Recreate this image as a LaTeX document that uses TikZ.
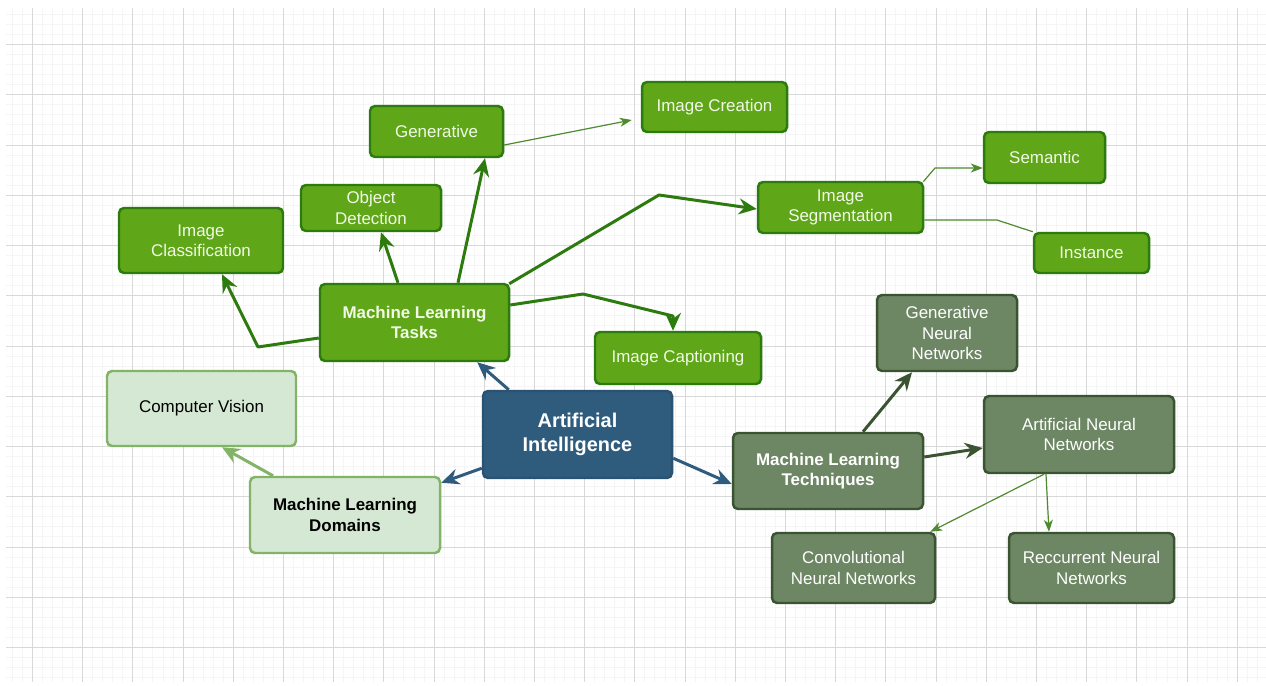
\documentclass[tikz,border=0pt]{standalone}
\usepackage{fontspec}
\setmainfont{Liberation Sans}
\usetikzlibrary{arrows.meta}
\definecolor{gfill}{HTML}{5FA619}
\definecolor{gdraw}{HTML}{2D7A0E}
\definecolor{gtext}{HTML}{F2FAE6}
\definecolor{bfill}{HTML}{2F5B7D}
\definecolor{bdraw}{HTML}{2A5272}
\definecolor{ofill}{HTML}{6D8764}
\definecolor{odraw}{HTML}{3A5431}
\definecolor{lfill}{HTML}{D5E8D4}
\definecolor{ldraw}{HTML}{82B366}
\definecolor{gthin}{HTML}{4E8A2E}
\definecolor{gridmaj}{HTML}{D8D8D8}
\definecolor{gridmin}{HTML}{F5F5F5}
\tikzset{
  box/.style={rounded corners=5pt, line width=2.5pt, align=center, inner sep=0pt,
    font=\fontsize{17}{20.5}\selectfont},
  gbox/.style={box, fill=gfill, draw=gdraw, text=gtext},
  obox/.style={box, fill=ofill, draw=odraw, text=white},
  lbox/.style={box, fill=lfill, draw=ldraw, text=black},
  aibox/.style={box, fill=bfill, draw=bdraw, text=white,
    font=\fontsize{20}{23.5}\selectfont\bfseries},
  thick arrow/.style={line width=3pt, line join=round,
    -{Stealth[length=18pt,width=16pt,inset=6pt]}},
  thin arrow/.style={line width=1.2pt, line join=round,
    -{Stealth[length=12pt,width=9pt,inset=3.5pt]}},
  gline/.style={thick arrow, draw=gdraw, color=gdraw},
  bline/.style={thick arrow, draw=bfill, color=bfill},
  oline/.style={thick arrow, draw=odraw, color=odraw},
  lline/.style={thick arrow, draw=ldraw, color=ldraw},
  tline/.style={thin arrow, draw=gthin, color=gthin},
}
\begin{document}
\begin{tikzpicture}[x=1bp,y=-1bp]
\useasboundingbox (0,0) rectangle (1266,686);
\fill[white] (0,0) rectangle (1266,686);
\begin{scope}
  \clip (6,8) rectangle (1266,682);
  \foreach \i in {-3,...,124} \draw[gridmin, line width=1bp] ({round(32+10.04*\i)+0.5},8) -- ++(0,674);
  \foreach \i in {-4,...,64} \draw[gridmin, line width=1bp] (6,{round(44+10.05*\i)+0.5}) -- ++(1260,0);
  \foreach \i in {-1,...,25} \draw[gridmaj, line width=1bp] ({round(32+50.2*\i)+0.5},8) -- ++(0,674);
  \foreach \i in {-1,...,13} \draw[gridmaj, line width=1bp] (6,{round(44+50.25*\i)+0.5}) -- ++(1260,0);
\end{scope}

% nodes
\node[gbox, minimum width=145bp, minimum height=50bp] (imgcreate) at (714.5,107) {Image Creation};
\node[gbox, minimum width=133bp, minimum height=51bp] (gen) at (436.5,131.5) {Generative};
\node[gbox, minimum width=140bp, minimum height=46bp] (objdet) at (371,208) {Object\\Detection};
\node[gbox, minimum width=164bp, minimum height=65bp] (imgclass) at (201,240.5) {Image\\Classification};
\node[gbox, minimum width=189bp, minimum height=77bp, font=\fontsize{17}{20.5}\selectfont\bfseries] (mltasks) at (414.5,322.5) {Machine Learning\\Tasks};
\node[gbox, minimum width=165bp, minimum height=51bp] (imgseg) at (840.5,207.5) {Image\\Segmentation};
\node[gbox, minimum width=121bp, minimum height=51bp] (semantic) at (1044.5,157.5) {Semantic};
\node[gbox, minimum width=115bp, minimum height=40bp] (instance) at (1091.5,253) {Instance};
\node[gbox, minimum width=166bp, minimum height=52bp] (imgcap) at (678,358) {Image Captioning};
\node[aibox, minimum width=189bp, minimum height=87bp] (ai) at (577.5,434.5) {Artificial\\Intelligence};
\node[lbox, minimum width=189bp, minimum height=75bp] (cv) at (201.5,408.5) {Computer Vision};
\node[lbox, minimum width=190bp, minimum height=76bp, font=\fontsize{17}{20.5}\selectfont\bfseries] (mldom) at (345,515) {Machine Learning\\Domains};
\node[obox, minimum width=190bp, minimum height=76bp, font=\fontsize{17}{20.5}\selectfont\bfseries] (mltech) at (828,471) {Machine Learning\\Techniques};
\node[obox, minimum width=140bp, minimum height=76bp] (gnn) at (947,333) {Generative\\Neural\\Networks};
\node[obox, minimum width=190bp, minimum height=77bp] (ann) at (1079,434.5) {Artificial Neural\\Networks};
\node[obox, minimum width=163bp, minimum height=70bp] (cnn) at (853.5,568) {Convolutional\\Neural Networks};
\node[obox, minimum width=165bp, minimum height=70bp] (rnn) at (1091.5,568) {Reccurrent Neural\\Networks};

% waypoints
\coordinate (w1) at (258,347);
\coordinate (w2) at (659,195);
\coordinate (w3) at (583,294);
\coordinate (w4) at (673,316);
\coordinate (w5) at (935,168);
\coordinate (w6) at (997,220);

% connectors
\draw[bline] ([xshift=27bp]ai.north west) -- ([xshift=-33bp]mltasks.south east);
\draw[bline] ([yshift=11bp]ai.south west) -- ([yshift=-7bp]mldom.north east);
\draw[bline] ([yshift=21bp]ai.south east) -- ([yshift=-13bp]mltech.west);

\draw[gline] ([yshift=-15.5bp]mltasks.west) -- (w1) -- ([xshift=21bp]imgclass.south);
\draw[gline] ([xshift=-16.5bp]mltasks.north) -- ([xshift=10bp]objdet.south);
\draw[gline] ([xshift=43.5bp]mltasks.north) -- ([xshift=48.5bp]gen.south);
\draw[gline] ([xshift=-1bp,yshift=-1bp]mltasks.north east) -- (w2) -- ([yshift=-1.5bp]imgseg.west);
\draw[gline] ([yshift=17.5bp]mltasks.east) -- (w3) -- (w4) -- ([xshift=-5bp]imgcap.north);

\draw[tline] ([yshift=-13.5bp]gen.east) -- ([xshift=-9bp,yshift=-13bp]imgcreate.west);
\draw[tline] ([xshift=-1bp,yshift=-1bp]imgseg.north east) -- (w5) -- ([yshift=-10.5bp]semantic.west);
\draw[gthin, line width=1.2pt, line join=round] ([yshift=-12.5bp]imgseg.east) -- (w6) -- (instance.north west);

\draw[lline] ([xshift=-72bp]mldom.north) -- ([xshift=20.5bp]cv.south);

\draw[oline] ([xshift=35bp]mltech.north) -- ([xshift=-35bp]gnn.south);
\draw[oline] ([yshift=14bp]mltech.east) -- ([yshift=-13.5bp]ann.west);
\draw[tline] ([xshift=-35bp]ann.south) -- ([xshift=-6bp]cnn.north east);
\draw[tline] ([xshift=-33bp]ann.south) -- ([xshift=-42.5bp]rnn.north);
\end{tikzpicture}
\end{document}
